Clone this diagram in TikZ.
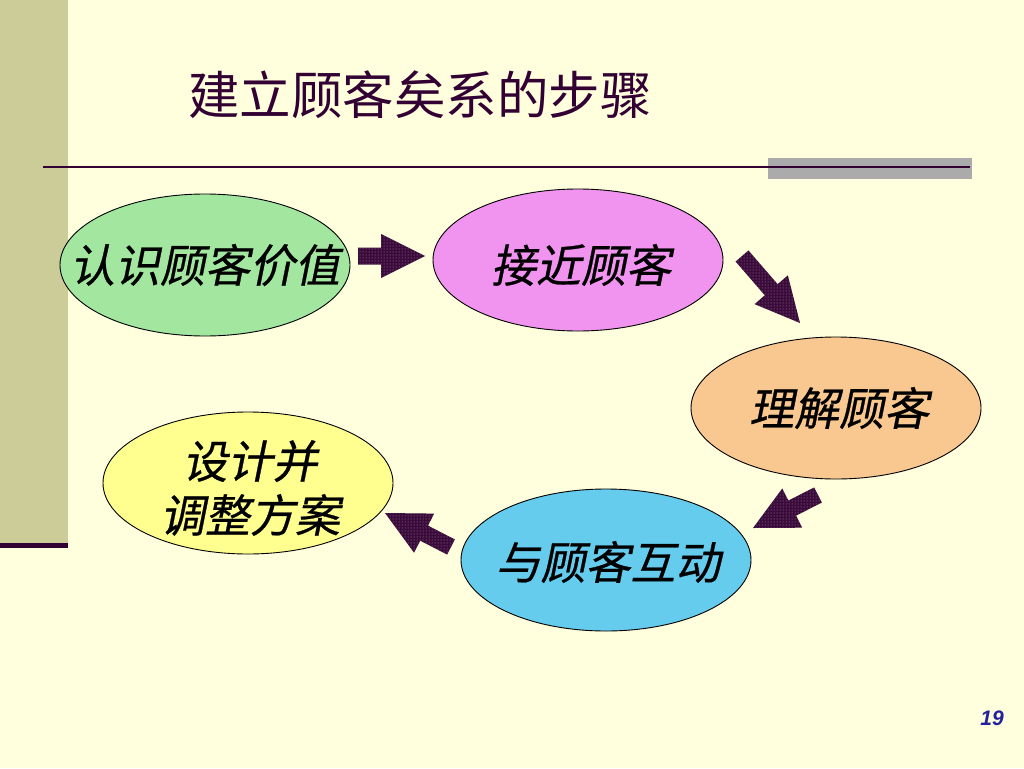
\documentclass[tikz,border=0pt]{standalone}
\usepackage{fontspec}
\usetikzlibrary{shapes.geometric,calc,patterns}
\newfontfamily\cjk{Noto Sans CJK SC}
\newfontfamily\cjki[FakeSlant=0.2,FakeBold=0.6]{Noto Sans CJK SC}
\newfontfamily\arialf{Liberation Sans}
\definecolor{bgcol}{HTML}{FFFFDD}
\definecolor{bandcol}{HTML}{CCCC99}
\definecolor{darkpur}{HTML}{330033}
\definecolor{arrcol}{HTML}{3A0A3A}
\definecolor{greencol}{HTML}{A2E6A0}
\definecolor{magcol}{HTML}{F094F0}
\definecolor{orgcol}{HTML}{F8C890}
\definecolor{bluecol}{HTML}{66CCEE}
\definecolor{yelcol}{HTML}{FFFF90}
\definecolor{numcol}{HTML}{22229A}
\tikzset{
  stepell/.style={ellipse, draw=black, line width=0.9pt, minimum width=290pt, minimum height=142pt, inner sep=0pt},
  steptext/.style={font=\cjki\fontsize{45}{54}\selectfont, align=center, inner sep=0pt},
  arrfill/.style={fill=arrcol, postaction={pattern=dots, pattern color=white!55!arrcol}},
}
\newcommand\blockarr[2]{%
  \coordinate (#1m) at ($(#2)!44pt!(#1)$);
  \fill[arrfill] ($(#1)!8.5pt!90:(#2)$) -- ($(#1m)!8.5pt!90:(#2)$) -- ($(#1m)!22pt!90:(#2)$) -- (#2)
     -- ($(#1m)!22pt!-90:(#2)$) -- ($(#1m)!8.5pt!-90:(#2)$) -- ($(#1)!8.5pt!-90:(#2)$) -- cycle;}
\begin{document}
\begin{tikzpicture}[x=1pt,y=-1pt]
\useasboundingbox (0,0) rectangle (1024,768);
\fill[bgcol] (0,0) rectangle (1024,768);
\fill[bandcol] (0,0) rectangle (68,544);
\fill[darkpur] (0,543) rectangle (68,548);
\fill[black!33] (768,158) rectangle (972,179);
\draw[darkpur, line width=2.5pt] (43,167) -- (970,167);
\node[text=darkpur, font=\cjk\fontsize{51.5}{60}\selectfont, anchor=west, inner sep=0pt] (title) at (188,95) {建立顾客矣系的步骤};
\node[stepell, fill=greencol] (e1) at (205,265) {};
\node[stepell, fill=magcol] (e2) at (578,260) {};
\node[stepell, fill=orgcol] (e3) at (836,408) {};
\node[stepell, fill=bluecol] (e4) at (606,560) {};
\node[stepell, fill=yelcol] (e5) at (248,483) {};
\node[steptext] (t1) at (205,265) {认识顾客价值};
\node[steptext] (t2) at (581,265) {接近顾客};
\node[steptext] (t3) at (839,408) {理解顾客};
\node[steptext] (t4) at (608,562) {与顾客互动};
\node[steptext] (t5) at (250,488) {设计并\\调整方案};
\coordinate (a1t) at (358,256); \coordinate (a1h) at (425,256);
\coordinate (a2t) at (742,256); \coordinate (a2h) at (800,323);
\coordinate (a3t) at (818,495); \coordinate (a3h) at (753,528);
\coordinate (a4t) at (451,547); \coordinate (a4h) at (385,513);
\blockarr{a1t}{a1h}
\blockarr{a2t}{a2h}
\blockarr{a3t}{a3h}
\blockarr{a4t}{a4h}
\node[text=numcol, font=\arialf\bfseries\itshape\fontsize{21}{24}\selectfont, inner sep=0pt] (pnum) at (992,718) {19};
\end{tikzpicture}
\end{document}
